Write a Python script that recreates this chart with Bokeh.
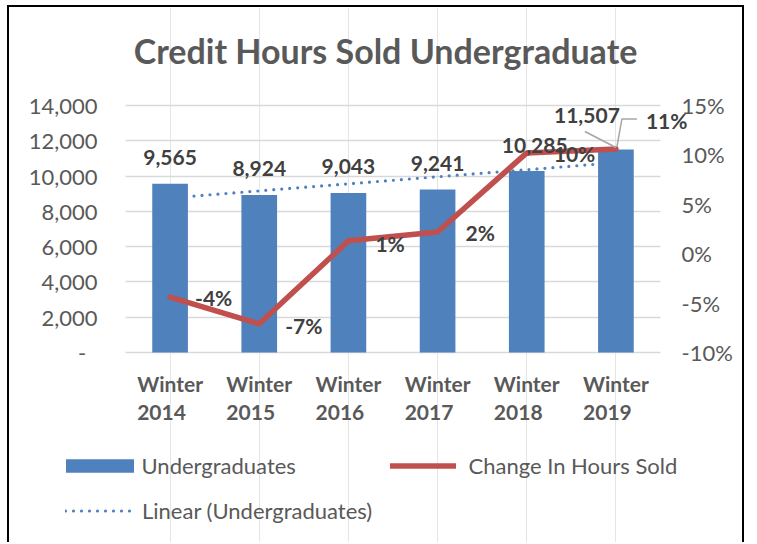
from bokeh.plotting import figure
from bokeh.models import (Range1d, LinearAxis, FixedTicker, ColumnDataSource,
                          LabelSet, Label, Legend, LegendItem, BoxAnnotation)
from bokeh.core.properties import value
from bokeh.embed import file_html
from bokeh.resources import INLINE
import numpy as np

# ---------------- data ----------------
title_text = "Credit Hours Sold Undergraduate"
categories = ["Winter\n2014", "Winter\n2015", "Winter\n2016",
              "Winter\n2017", "Winter\n2018", "Winter\n2019"]
undergrads = [9565, 8924, 9043, 9241, 10285, 11507]
bar_labels = ["9,565", "8,924", "9,043", "9,241", "10,285", "11,507"]
change_pct = [-4.4, -7.1, 1.3, 2.2, 10.2, 10.6]
change_labels = ["-4%", "-7%", "1%", "2%", "10%", "11%"]
left_ticks = [0, 2000, 4000, 6000, 8000, 10000, 12000, 14000]
left_tick_labels = ["-\u00a0\u00a0", "2,000", "4,000", "6,000", "8,000",
                    "10,000", "12,000", "14,000"]
right_ticks = [-10, -5, 0, 5, 10, 15]
right_tick_labels = ["-10%", "-5%", "0%", "5%", "10%", "15%"]

# ---------------- style / geometry ----------------
FONT = "Lato"
GREY = "#595959"
DARK = "#404040"
BLUE = "#4F81BD"
RED = "#C0504D"
W, H = 737, 537
FL, FR = 46, 54
frame_w = W - FL - FR
TOP_PX, MAIN_H = 98, 247                    # space above the value area, its height
BOTTOM_PX = H - TOP_PX - MAIN_H
cat_px = 535 / 6.0                          # width of one category (px)
x_start = 0.5 - 70 / cat_px
x_end = x_start + frame_w / cat_px
y_max = 14000
px_y = y_max / MAIN_H
p_lo, p_hi = -10, 15
px_p = (p_hi - p_lo) / MAIN_H
px_x = 1.0 / cat_px

x = list(range(1, len(undergrads) + 1))

p = figure(width=W, height=H, x_range=Range1d(x_start, x_end),
           y_range=Range1d(-BOTTOM_PX * px_y, y_max + TOP_PX * px_y),
           x_axis_location=None, output_backend="svg", toolbar_location=None,
           min_border_left=FL, min_border_right=FR, min_border_top=0,
           min_border_bottom=0,
           styles={"margin-left": "7px", "margin-top": "5px",
                   "border-top": "2px solid #000", "border-left": "2px solid #000",
                   "border-right": "2px solid #000"})
try:
    p.title = None
except Exception:
    p.title.visible = False
p.extra_y_ranges = {"pct": Range1d(p_lo - BOTTOM_PX * px_p, p_hi + TOP_PX * px_p)}
p.outline_line_color = None
p.background_fill_color = "white"
p.border_fill_color = "white"

# grid
p.ygrid.grid_line_color = "#D9D9D9"
p.ygrid.grid_line_width = 1.3
p.ygrid.ticker = FixedTicker(ticks=left_ticks)
# the grid spans only the six categories; blank the strips outside them
p.add_layout(BoxAnnotation(left=6.5, fill_color="white", fill_alpha=1.0,
                           line_color=None, level="underlay"))
p.add_layout(BoxAnnotation(right=0.5, fill_color="white", fill_alpha=1.0,
                           line_color=None, level="underlay"))

def style_axis(ax, standoff):
    ax.axis_line_color = None
    ax.major_tick_line_color = None
    ax.minor_tick_line_color = None
    ax.major_tick_out = 0
    ax.major_tick_in = 0
    ax.minor_tick_out = 0
    ax.major_label_standoff = standoff
    ax.major_label_text_font = FONT
    ax.major_label_text_font_size = "22px"
    ax.major_label_text_color = GREY

# left axis
ya = p.yaxis[0]
ya.ticker = FixedTicker(ticks=left_ticks)
ya.major_label_overrides = {t: l for t, l in zip(left_ticks, left_tick_labels)}
style_axis(ya, -42)

# right axis
ra = LinearAxis(y_range_name="pct", ticker=FixedTicker(ticks=right_ticks))
ra.major_label_overrides = {t: l for t, l in zip(right_ticks, right_tick_labels)}
style_axis(ra, -11)
p.add_layout(ra, "right")

# title
p.add_layout(Label(x=x_start + 330 * px_x, y=302 * px_y, text=title_text,
                   text_align="center", text_baseline="middle", text_font=FONT,
                   text_font_size="34px", text_font_style="bold", text_color=GREY))

# trendline (linear fit of the bars), drawn beneath the bars
coef = np.polyfit(x, undergrads, 1)
tx = [x[0], x[-1]]
ty = list(np.polyval(coef, tx))
trend = p.line(tx, ty, line_color=BLUE, line_width=3.2, line_dash="0 8",
               line_cap="round")

bars = p.vbar(x=x, top=undergrads, width=0.4, fill_color=BLUE, line_color=None)

chg = p.line(x, change_pct, y_range_name="pct", line_color=RED, line_width=5.5,
             line_join="round", line_cap="round")

# leader lines for the last column's labels
p.line([x[5] - 31 * px_x, x[5]], [undergrads[5] + 18 * px_y, undergrads[5] + 2 * px_y],
       line_color="#A6A6A6", line_width=1.5)
p.line([x[5] + 1 * px_x, x[5] + 6 * px_x, x[5] + 21 * px_x],
       [change_pct[5] + 2 * px_p, change_pct[5] + 30 * px_p, change_pct[5] + 30 * px_p],
       y_range_name="pct", line_color="#A6A6A6", line_width=1.5)

# category labels under the bars
ksrc = ColumnDataSource(dict(x=x, y=[0] * len(x), t=categories))
p.add_layout(LabelSet(x="x", y="y", text="t", source=ksrc, y_offset=-45,
                      text_align="center", text_baseline="middle",
                      text_font=value(FONT), text_font_size=value("21px"),
                      text_font_style="bold", text_color=GREY, text_line_height=1.13))

# bar value labels
bar_dx = [0, 0, 0, 0, 8, -29]
bar_dy = [26, 27, 26, 26, 26, 34]
bsrc = ColumnDataSource(dict(x=x, y=undergrads, t=bar_labels, dx=bar_dx, dy=bar_dy))
p.add_layout(LabelSet(x="x", y="y", text="t", source=bsrc, x_offset="dx", y_offset="dy",
                      text_align="center", text_baseline="middle", text_font=value(FONT),
                      text_font_size=value("21px"), text_font_style="bold",
                      text_color=DARK))

# change labels
chg_dx = [25, 26, 27, 28, 27, 30]
chg_dy = [0, -2, -3, -1, -1, 28]
csrc = ColumnDataSource(dict(x=x, y=change_pct, t=change_labels, dx=chg_dx, dy=chg_dy))
p.add_layout(LabelSet(x="x", y="y", text="t", source=csrc, x_offset="dx", y_offset="dy",
                      y_range_name="pct", text_align="left", text_baseline="middle",
                      text_font=value(FONT), text_font_size=value("21px"),
                      text_font_style="bold", text_color=DARK))

# legends
def mk_legend(items, loc, gw, gh, standoff):
    return Legend(items=items, location=loc, orientation="horizontal",
                  padding=0, margin=0, border_line_color=None,
                  background_fill_alpha=0, glyph_width=gw, glyph_height=gh,
                  label_standoff=standoff, label_height=gh, label_text_font=FONT,
                  label_text_font_size="22px", label_text_color=GREY)

p.add_layout(mk_legend([LegendItem(label="Undergraduates", renderers=[bars])],
                       (1.5, 65), 85, 17, 0))
p.add_layout(mk_legend([LegendItem(label="Change In Hours Sold", renderers=[chg])],
                       (334.5, 65), 66, 17, 13))
p.add_layout(mk_legend([LegendItem(label="Linear (Undergraduates)", renderers=[trend])],
                       (10, 20), 68, 17, 9))

open("out.html", "w").write(file_html(p, INLINE))
